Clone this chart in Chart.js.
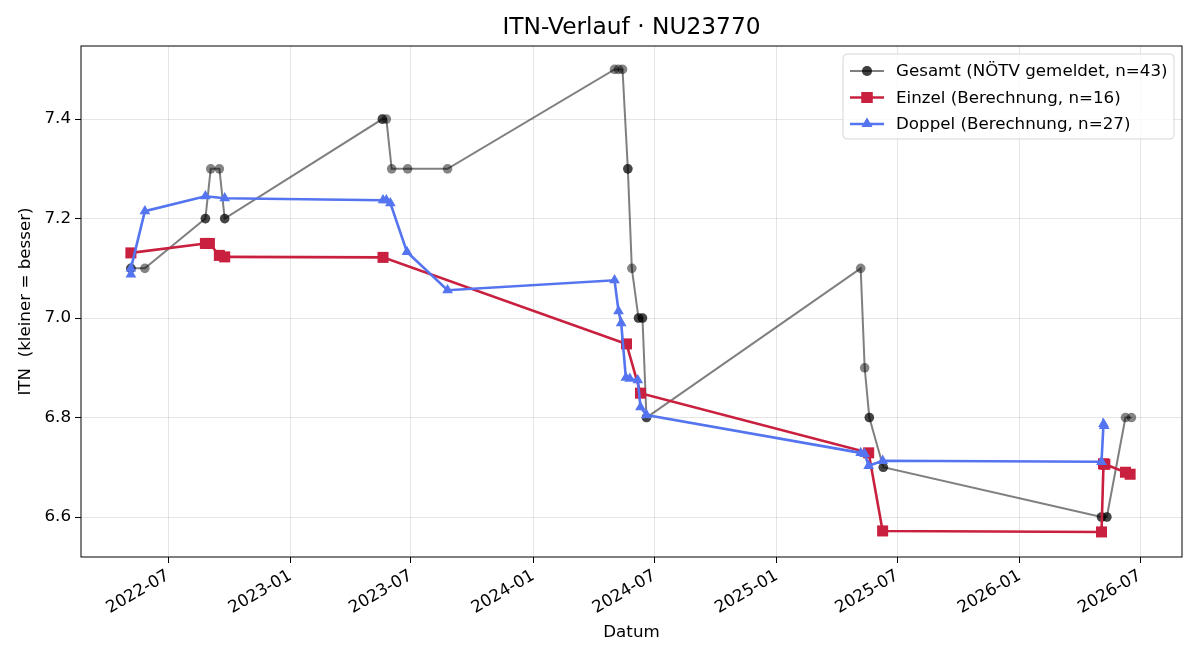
<!DOCTYPE html>
<html>
<head>
<meta charset="utf-8">
<script src="https://cdn.jsdelivr.net/npm/chart.js@4.4.1/dist/chart.umd.min.js"></script>
<style>
html, body { margin: 0; padding: 0; background: #fff; }
</style>
</head>
<body>
<canvas id="itnChart" width="1200" height="660"></canvas>
<script>
// Gesamt (NÖTV gemeldet) - overlapping reports kept as duplicates
const gesamtDates = [
    '2022-05-06', '2022-05-06', '2022-05-27', '2022-08-26', '2022-08-26', '2022-09-03', '2022-09-16',
    '2022-09-24', '2022-09-24', '2023-05-19', '2023-05-19', '2023-05-25', '2023-06-02', '2023-06-26',
    '2023-08-25', '2024-05-02', '2024-05-08', '2024-05-14', '2024-05-22', '2024-05-22', '2024-05-28',
    '2024-06-07', '2024-06-07', '2024-06-13', '2024-06-13', '2024-06-19', '2024-06-19', '2025-05-07',
    '2025-05-13', '2025-05-20', '2025-05-20', '2025-06-10', '2025-06-10', '2026-05-04', '2026-05-04',
    '2026-05-12', '2026-05-12', '2026-06-09', '2026-06-18'
];
const gesamtValues = [
    7.1, 7.1, 7.1, 7.2, 7.2, 7.3, 7.3,
    7.2, 7.2, 7.4, 7.4, 7.4, 7.3, 7.3,
    7.3, 7.5, 7.5, 7.5, 7.3, 7.3, 7.1,
    7.0, 7.0, 7.0, 7.0, 6.8, 6.8, 7.1,
    6.9, 6.8, 6.8, 6.7, 6.7, 6.6, 6.6,
    6.6, 6.6, 6.8, 6.8
];

// Einzel (Berechnung)
const einzelDates = [
    '2022-05-06', '2022-08-26', '2022-09-01', '2022-09-16', '2022-09-24', '2023-05-20',
    '2024-05-20', '2024-06-10', '2025-05-19', '2025-06-09', '2026-05-04', '2026-05-07',
    '2026-05-09', '2026-06-09', '2026-06-16'
];
const einzelValues = [
    7.131, 7.150, 7.150, 7.126, 7.123, 7.122,
    6.948, 6.849, 6.729, 6.572, 6.570, 6.707,
    6.706, 6.690, 6.686
];

// Doppel (Berechnung)
const doppelDates = [
    '2022-05-06', '2022-05-06', '2022-05-27', '2022-08-26', '2022-09-24', '2023-05-20',
    '2023-05-25', '2023-05-31', '2023-06-25', '2023-08-25', '2024-05-02', '2024-05-08',
    '2024-05-12', '2024-05-19', '2024-05-25', '2024-06-06', '2024-06-10', '2024-06-19',
    '2025-05-07', '2025-05-13', '2025-05-19', '2025-06-09', '2026-05-04', '2026-05-07',
    '2026-05-08'
];
const doppelValues = [
    7.088, 7.100, 7.215, 7.245, 7.241, 7.237,
    7.237, 7.231, 7.133, 7.056, 7.076, 7.014,
    6.990, 6.880, 6.878, 6.875, 6.821, 6.805,
    6.729, 6.727, 6.703, 6.713, 6.711, 6.787,
    6.783
];

const xTickLabels = ['2022-07', '2023-01', '2023-07', '2024-01', '2024-07', '2025-01', '2025-07', '2026-01', '2026-07'];
const yTickValues = [6.6, 6.8, 7.0, 7.2, 7.4];

const FONT = "'DejaVu Sans', sans-serif";

function toMs(s) {
    const p = s.split('-').map(Number);
    return Date.UTC(p[0], p[1] - 1, p[2] || 1);
}
function toPoints(dates, values) {
    return dates.map((d, i) => ({ x: toMs(d), y: values[i] }));
}
function fmtMonth(ms) {
    const d = new Date(ms);
    return d.getUTCFullYear() + '-' + String(d.getUTCMonth() + 1).padStart(2, '0');
}

const GRAY = 'rgba(0, 0, 0, 0.5)';
const GRAY_PT = 'rgba(0, 0, 0, 0.48)';
const RED = 'rgb(200, 32, 62)';
const BLUE = 'rgb(84, 116, 240)';

const legendItems = [
    { label: 'Gesamt (NÖTV gemeldet, n=43)', color: GRAY, style: 'circle', lw: 2, r: 5 },
    { label: 'Einzel (Berechnung, n=16)', color: RED, style: 'rect', lw: 2.6, r: 7.8 },
    { label: 'Doppel (Berechnung, n=27)', color: BLUE, style: 'triangle', lw: 2.6, r: 6.2 }
];

// frame, title, axis titles and legend drawn matplotlib-style
const decorations = {
    id: 'decorations',
    afterDatasetsDraw(chart) {
        const { ctx, chartArea: a } = chart;
        ctx.save();
        ctx.strokeStyle = '#000';
        ctx.lineWidth = 1;
        ctx.strokeRect(a.left, a.top, a.right - a.left, a.bottom - a.top);

        ctx.fillStyle = '#000';
        ctx.textAlign = 'center';
        ctx.textBaseline = 'middle';
        ctx.font = '23.3px ' + FONT;
        ctx.fillText('ITN-Verlauf · NU23770', (a.left + a.right) / 2, 28);
        ctx.font = '16.7px ' + FONT;
        ctx.fillText('Datum', (a.left + a.right) / 2, 633);
        ctx.save();
        ctx.translate(26, (a.top + a.bottom) / 2);
        ctx.rotate(-Math.PI / 2);
        ctx.fillText('ITN  (kleiner = besser)', 0, 0);
        ctx.restore();

        // legend box
        const bx = 843, by = 54, bw = 331, bh = 85;
        ctx.beginPath();
        ctx.roundRect(bx, by, bw, bh, 4);
        ctx.fillStyle = 'rgba(255, 255, 255, 0.8)';
        ctx.fill();
        ctx.strokeStyle = '#d6d6d6';
        ctx.lineWidth = 1;
        ctx.stroke();
        legendItems.forEach((it, i) => {
            const y = 71 + i * 26.5;
            ctx.strokeStyle = it.color;
            ctx.lineWidth = it.lw;
            ctx.beginPath();
            ctx.moveTo(850, y);
            ctx.lineTo(884, y);
            ctx.stroke();
            ctx.fillStyle = it.color;
            Chart.helpers.drawPoint(ctx, { pointStyle: it.style, radius: it.r, borderWidth: 0 }, 867, y);
            ctx.fill();
            ctx.fillStyle = '#000';
            ctx.textAlign = 'left';
            ctx.font = '16.7px ' + FONT;
            ctx.fillText(it.label, 896, y + 1);
        });
        ctx.restore();
    }
};

const ctx = document.getElementById('itnChart').getContext('2d');
new Chart(ctx, {
    type: 'line',
    data: {
        datasets: [{
            label: 'Gesamt (NÖTV gemeldet, n=43)',
            data: toPoints(gesamtDates, gesamtValues),
            borderColor: GRAY,
            backgroundColor: GRAY_PT,
            borderWidth: 2,
            pointStyle: 'circle',
            pointRadius: 4.8,
            pointBorderWidth: 0,
            order: 3
        }, {
            label: 'Einzel (Berechnung, n=16)',
            data: toPoints(einzelDates, einzelValues),
            borderColor: RED,
            backgroundColor: RED,
            borderWidth: 2.6,
            pointStyle: 'rect',
            pointRadius: 7.8,
            pointBorderWidth: 0,
            order: 2
        }, {
            label: 'Doppel (Berechnung, n=27)',
            data: toPoints(doppelDates, doppelValues),
            borderColor: BLUE,
            backgroundColor: BLUE,
            borderWidth: 2.6,
            pointStyle: 'triangle',
            pointRadius: 6.2,
            pointBorderWidth: 0,
            order: 1
        }]
    },
    options: {
        responsive: false,
        animation: false,
        devicePixelRatio: 1,
        layout: { padding: { top: 46, right: 18, left: 0, bottom: 0 } },
        plugins: {
            legend: { display: false },
            title: { display: false },
            tooltip: { enabled: false }
        },
        elements: { line: { tension: 0 } },
        scales: {
            x: {
                type: 'linear',
                min: toMs('2022-02-20'),
                max: toMs('2026-09-02'),
                afterBuildTicks: s => { s.ticks = xTickLabels.map(l => ({ value: toMs(l + '-01') })); },
                afterFit: s => { s.height = 103; },
                ticks: {
                    callback: v => fmtMonth(v),
                    minRotation: 30,
                    maxRotation: 30,
                    autoSkip: false,
                    padding: 3,
                    color: '#000',
                    font: { family: FONT, size: 16.7 }
                },
                grid: { color: 'rgba(0, 0, 0, 0.1)', lineWidth: 1, tickLength: 6, tickColor: '#000', tickWidth: 1 },
                border: { display: false }
            },
            y: {
                min: 6.5196,
                max: 7.547,
                afterBuildTicks: s => { s.ticks = yTickValues.map(v => ({ value: v })); },
                afterFit: s => { s.width = 81; },
                ticks: {
                    callback: v => v.toFixed(1),
                    padding: 4,
                    color: '#000',
                    font: { family: FONT, size: 16.7 }
                },
                grid: { color: 'rgba(0, 0, 0, 0.1)', lineWidth: 1, tickLength: 6, tickColor: '#000', tickWidth: 1 },
                border: { display: false }
            }
        }
    },
    plugins: [decorations]
});
</script>
</body>
</html>
